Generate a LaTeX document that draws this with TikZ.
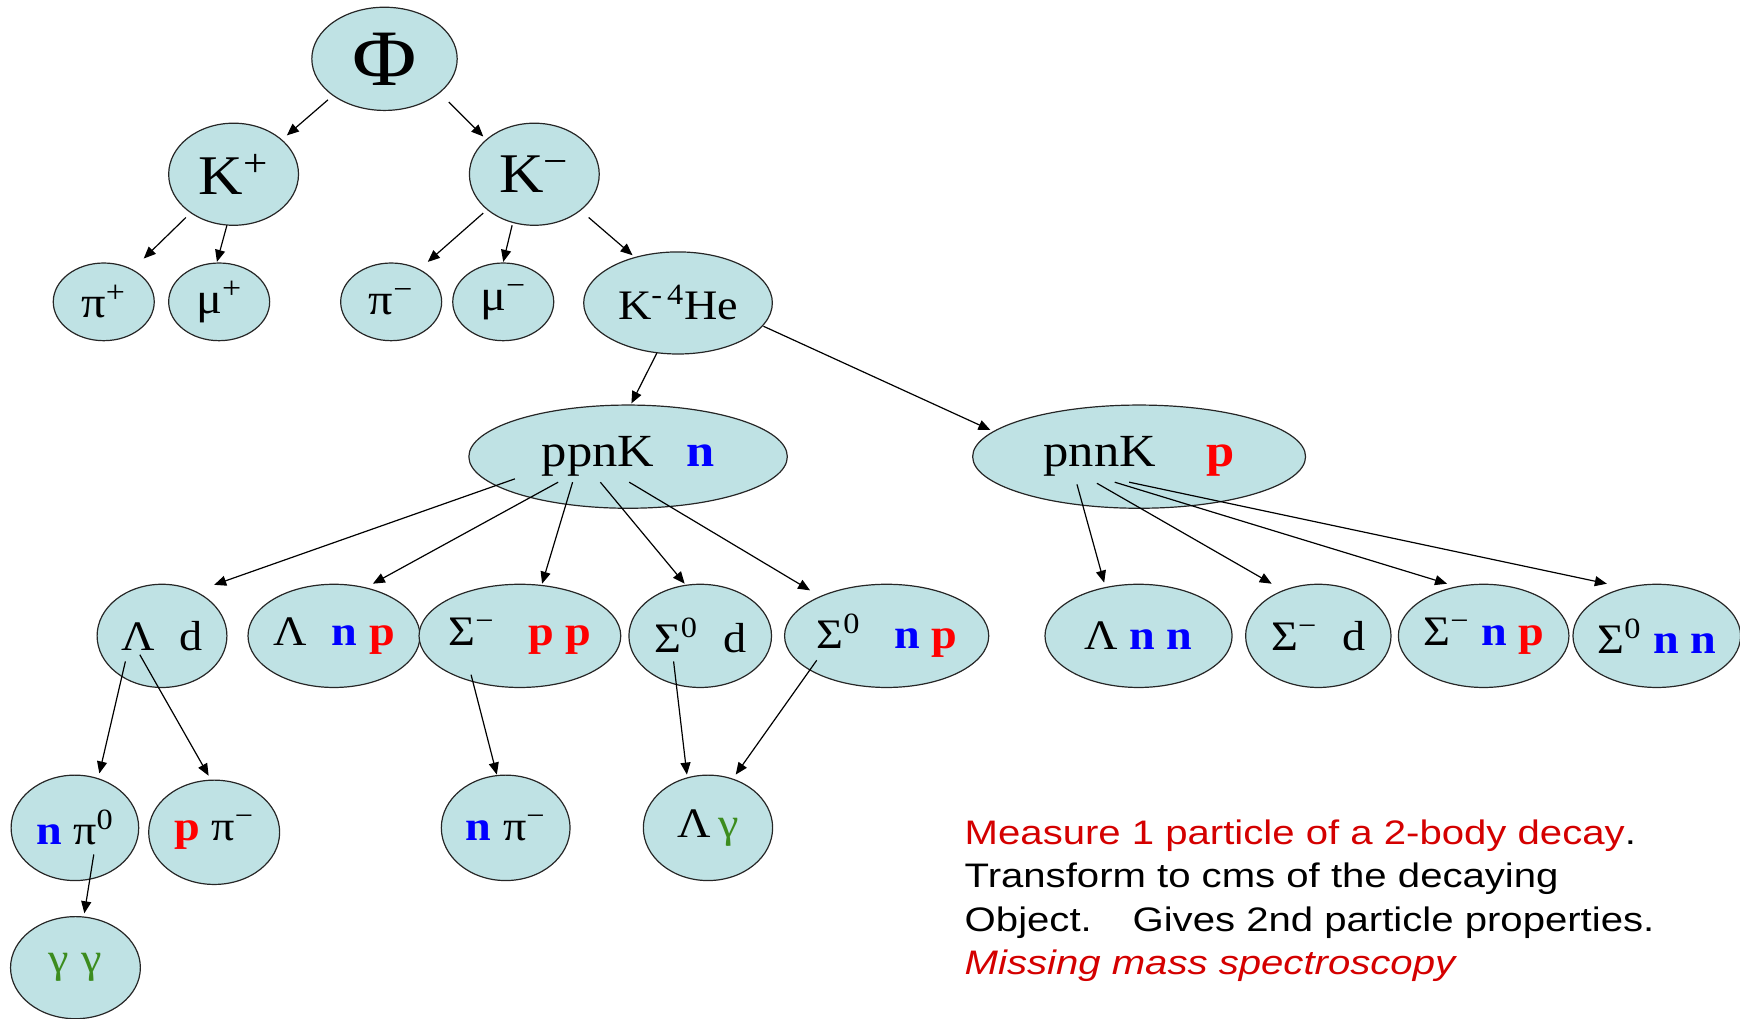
\documentclass[tikz,border=0pt]{standalone}
\usepackage{fontspec}
\setmainfont[FakeStretch=1.1]{Liberation Serif}
\newfontfamily\notefont[FakeStretch=1.18]{Liberation Sans}
\usetikzlibrary{shapes.geometric,arrows.meta}
\definecolor{nodefill}{HTML}{BFE2E4}
\definecolor{pblue}{HTML}{0000FF}
\definecolor{pred}{HTML}{FF0000}
\definecolor{pgreen}{HTML}{3C8C1E}
\definecolor{notered}{HTML}{D40000}
\newcommand\blueN{\textcolor{pblue}{\textbf{n}}}
\newcommand\redP{\textcolor{pred}{\textbf{p}}}
\newcommand\grG{\textcolor{pgreen}{γ}}
\newcommand\upx[1]{\textsuperscript{#1}}
\newcommand\fsz[1]{\fontsize{#1}{#1}\selectfont}
\begin{document}
\begin{tikzpicture}[x=0.5549pt, y=-0.5549pt,
  pnode/.style={ellipse, draw=black!85, line width=0.6pt, fill=nodefill, inner sep=0pt},
  sz/.style 2 args={minimum width=#1*0.5549pt, minimum height=#2*0.5549pt},
  arr/.style={-{Triangle[length=6pt,width=5pt]}, line width=0.6pt, black},
  notetext/.style={font=\notefont\fsz{17}, inner sep=0pt, anchor=base west}]
\useasboundingbox (0,0) rectangle (1568,918);
% level 0-2
\node[pnode, sz={131}{93}, font=\fsz{40}] (phi) at (346.5,53) {Φ};
\node[pnode, sz={117}{92}, font=\fsz{28}] (kp) at (210.5,157) {K\upx{+}};
\node[pnode, sz={117}{92}, font=\fsz{28}] (km) at (481.5,157) {K\upx{−}};
\node[pnode, sz={91}{70}, font=\fsz{22}] (pip) at (93.5,272) {π\upx{+}};
\node[pnode, sz={91}{70}, font=\fsz{22}] (mup) at (197.5,272) {μ\upx{+}};
\node[pnode, sz={91}{70}, font=\fsz{22}] (pim) at (352.5,272) {π\upx{−}};
\node[pnode, sz={91}{70}, font=\fsz{22}] (mum) at (453.5,272) {μ\upx{−}};
\node[pnode, sz={170}{92}, font=\fsz{21}] (khe) at (611,273) {K\upx{-\,4}He};
% level 3
\node[pnode, sz={287}{93}, font=\fsz{23}] (ppnk) at (566,411.5) {ppnK\hspace{0.7em}\blueN};
\node[pnode, sz={300}{93}, font=\fsz{23}] (pnnk) at (1026.5,411.5) {pnnK\hspace{1.1em}\redP};
% level 4
\node[pnode, sz={117}{93}, font=\fsz{21}] (ld) at (146,573) {Λ\hspace{0.6em}d};
\node[pnode, sz={142}{93}, font=\fsz{21}] (lnp) at (301,573) {Λ\hspace{0.6em}\blueN{} \redP};
\node[pnode, sz={166}{93}, font=\fsz{21}] (spp) at (468.5,573) {Σ\upx{−}\hspace{0.8em}\redP{} \redP};
\node[pnode, sz={128.5}{93}, font=\fsz{21}] (s0d) at (631,573) {Σ\upx{0}\hspace{0.6em}d};
\node[pnode, sz={184}{93}, font=\fsz{21}] (s0np) at (799,573) {Σ\upx{0}\hspace{0.8em}\blueN{} \redP};
\node[pnode, sz={168.6}{93}, font=\fsz{21}] (lnn) at (1026,573) {Λ \blueN{} \blueN};
\node[pnode, sz={131}{93}, font=\fsz{21}] (smd) at (1188,573) {Σ\upx{−}\hspace{0.6em}d};
\node[pnode, sz={142}{93}, font=\fsz{21}] (smnp) at (1337,573) {Σ\upx{−} \blueN{} \redP};
\node[pnode, sz={143.5}{93}, font=\fsz{21}] (s0nn) at (1493,573) {Σ\upx{0} \blueN{} \blueN};
% level 5
\node[pnode, sz={115}{95}, font=\fsz{21}] (npi0) at (67.5,746) {\blueN{} π\upx{0}};
\node[pnode, sz={118}{94}, font=\fsz{21}] (ppim) at (193,750) {\redP{} π\upx{−}};
\node[pnode, sz={116}{95}, font=\fsz{21}] (npim) at (455.7,746) {\blueN{} π\upx{−}};
\node[pnode, sz={116.5}{95}, font=\fsz{21}] (lg) at (638,746) {Λ\,\grG};
\node[pnode, sz={117}{92}, font=\fsz{21}] (gg) at (68,872) {\grG\hspace{0.3em}\grG};
% arrows
\draw[arr] ([shift={(-51,37)}]phi.center) -- ([shift={(48,-35)}]kp.center);
\draw[arr] ([shift={(58,39)}]phi.center) -- ([shift={(-46,-34)}]km.center);
\draw[arr] ([shift={(-43,39)}]kp.center) -- ([shift={(36,-39)}]pip.center);
\draw[arr] ([shift={(-6,46)}]kp.center) -- ([shift={(-2,-36)}]mup.center);
\draw[arr] ([shift={(-46,35)}]km.center) -- ([shift={(33,-36)}]pim.center);
\draw[arr] ([shift={(-20,46)}]km.center) -- ([shift={(0,-36)}]mum.center);
\draw[arr] ([shift={(49,39)}]km.center) -- ([shift={(-41,-43)}]khe.center);
\draw[arr] ([shift={(-19,45)}]khe.center) -- ([shift={(3,-48)}]ppnk.center);
\draw[arr] ([shift={(77,21)}]khe.center) -- ([shift={(-134,-24)}]pnnk.center);
\draw[arr] ([shift={(-102,20)}]ppnk.center) -- ([shift={(47,-46)}]ld.center);
\draw[arr] ([shift={(-63,23)}]ppnk.center) -- ([shift={(35,-47)}]lnp.center);
\draw[arr] ([shift={(-50,23)}]ppnk.center) -- ([shift={(20,-47)}]spp.center);
\draw[arr] ([shift={(-25,23)}]ppnk.center) -- ([shift={(-14,-47)}]s0d.center);
\draw[arr] ([shift={(1,23)}]ppnk.center) -- ([shift={(-69,-41)}]s0np.center);
\draw[arr] ([shift={(-56,25)}]pnnk.center) -- ([shift={(-31,-48)}]lnn.center);
\draw[arr] ([shift={(-38,24)}]pnnk.center) -- ([shift={(-42,-47)}]smd.center);
\draw[arr] ([shift={(-22,23)}]pnnk.center) -- ([shift={(-33,-47)}]smnp.center);
\draw[arr] ([shift={(-9,23)}]pnnk.center) -- ([shift={(-45,-47)}]s0nn.center);
\draw[arr] ([shift={(-33,23)}]ld.center) -- ([shift={(22,-49)}]npi0.center);
\draw[arr] ([shift={(-20,17)}]ld.center) -- ([shift={(-5,-51)}]ppim.center);
\draw[arr] ([shift={(-44,35)}]spp.center) -- ([shift={(-8,-48)}]npim.center);
\draw[arr] ([shift={(-24,23)}]s0d.center) -- ([shift={(-19,-48)}]lg.center);
\draw[arr] ([shift={(-63,22)}]s0np.center) -- ([shift={(25,-48)}]lg.center);
\draw[arr] ([shift={(17,24)}]npi0.center) -- ([shift={(8,-49)}]gg.center);
% note
\node[notetext] (l1) at (869,761) {\textcolor{notered}{Measure 1 particle of a 2-body decay}.};
\node[notetext] (l2) at (869,800) {Transform to cms of the decaying};
\node[notetext] (l3) at (869,839) {Object.\hspace{1.2em}Gives 2nd particle properties.};
\node[notetext] (l4) at (869,878) {\textcolor{notered}{\itshape Missing mass spectroscopy}};
\end{tikzpicture}
\end{document}
